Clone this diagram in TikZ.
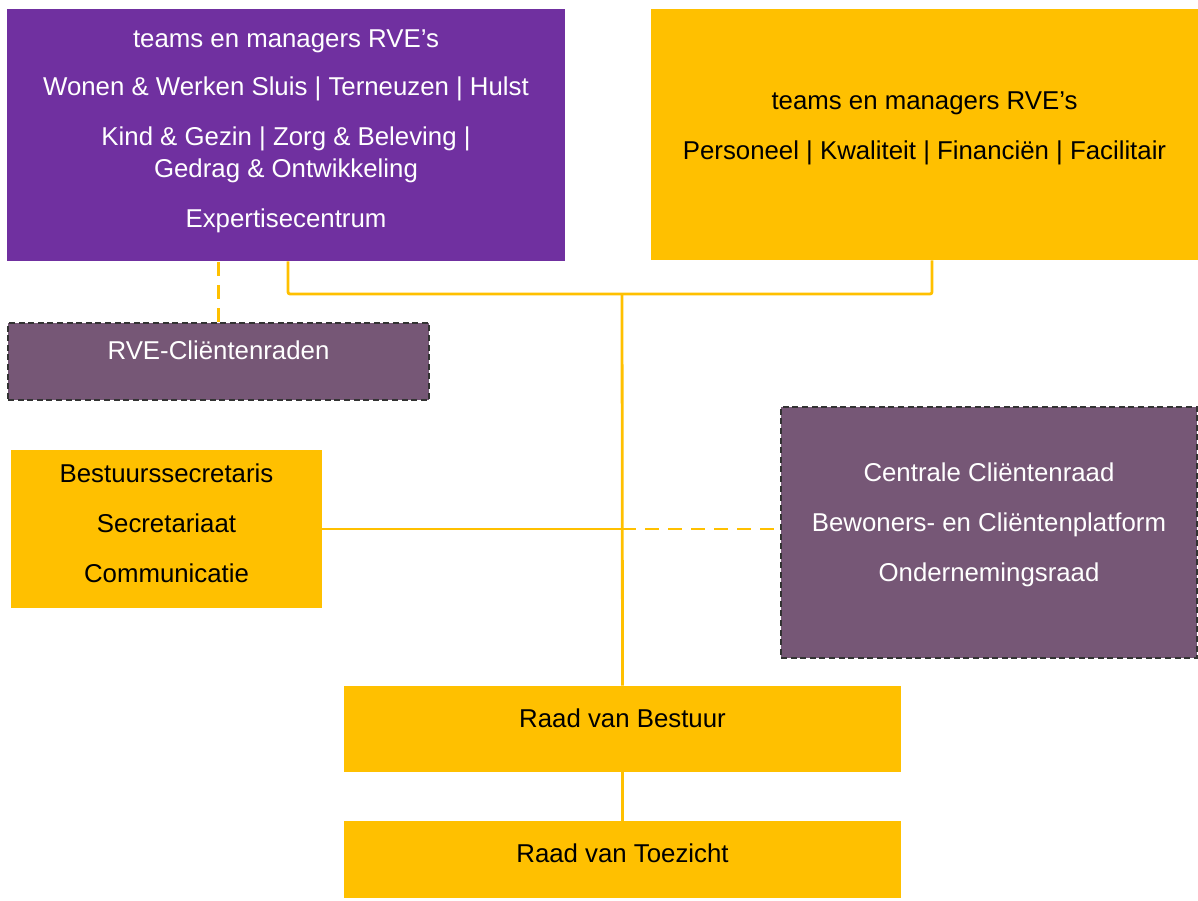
\documentclass[tikz,border=0pt]{standalone}
\usepackage{fontspec}
\setmainfont{Liberation Sans}
\usetikzlibrary{positioning, calc}
\definecolor{orgPurple}{RGB}{112, 48, 160}
\definecolor{orgOrange}{RGB}{255, 192, 0}
\definecolor{orgMauve}{RGB}{118, 87, 118}

\begin{document}
\begin{tikzpicture}[
    x=0.5pt, y=-0.5pt,
    font=\fontsize{12.9}{15}\selectfont,
    box/.style={
        rectangle,
        inner sep=0pt,
        align=center,
        text depth=6pt
    },
    purplebox/.style={
        box,
        fill=orgPurple,
        text=white
    },
    orangebox/.style={
        box,
        fill=orgOrange,
        text=black
    },
    councilbox/.style={
        box,
        fill=orgMauve,
        text=white,
        draw=black!80,
        line width=1.1pt,
        dash pattern=on 3pt off 1.8pt
    },
    link/.style={
        draw=orgOrange,
        line width=1.4pt,
        rounded corners=1pt
    },
    looselink/.style={
        link,
        dash pattern=on 7pt off 4.5pt
    }
]
\useasboundingbox (0,0) rectangle (1198,900);

% ================= TOP ROW =================
\node[purplebox, minimum width=279pt, minimum height=126pt] (rveteams) at (286,135)
    {teams en managers RVE’s\\[9pt]
     Wonen \& Werken Sluis | Terneuzen | Hulst\\[10pt]
     Kind \& Gezin | Zorg \& Beleving |\\[1pt]
     Gedrag \& Ontwikkeling\\[10pt]
     Expertisecentrum};
\node[orangebox, minimum width=273.5pt, minimum height=125.5pt, text depth=9pt] (staffteams) at (924.5,134.5)
    {teams en managers RVE’s\\[10pt]
     Personeel | Kwaliteit | Financiën | Facilitair};

% ================= COUNCILS =================
\node[councilbox, minimum width=210.5pt, minimum height=38.5pt, text depth=11pt] (rveraden) at (218.5,361.5)
    {RVE-Cliëntenraden};
\node[councilbox, minimum width=208pt, minimum height=125.5pt, text depth=10pt] (raden) at (989,532.5)
    {Centrale Cliëntenraad\\[10pt]
     Bewoners- en Cliëntenplatform\\[10pt]
     Ondernemingsraad};

% ================= STAFF =================
\node[orangebox, minimum width=155.5pt, minimum height=79pt] (secr) at (166.5,529)
    {Bestuurssecretaris\\[10pt]
     Secretariaat\\[10pt]
     Communicatie};

% ================= BOARDS =================
\node[orangebox, minimum width=278.5pt, minimum height=43pt, text depth=11pt] (rvb) at (622.5,729)
    {Raad van Bestuur};
\node[orangebox, minimum width=278.5pt, minimum height=38.5pt] (rvt) at (622.5,859.5)
    {Raad van Toezicht};

% ================= CONNECTORS =================
\coordinate (hub) at (622,294);
\draw[link] ([xshift=1pt]rveteams.south) |- (hub) -| ([xshift=3.75pt]staffteams.south);
\draw[link] (hub) -- (rvb.north);
\draw[looselink] (rveraden.north) -- (rveraden.north |- rveteams.south);
\draw[link] (secr.east) -- (secr.east -| hub);
\draw[looselink] (secr.east -| hub) -- (secr.east -| raden.west);
\draw[link] (rvb) -- (rvt);

\end{tikzpicture}
\end{document}
